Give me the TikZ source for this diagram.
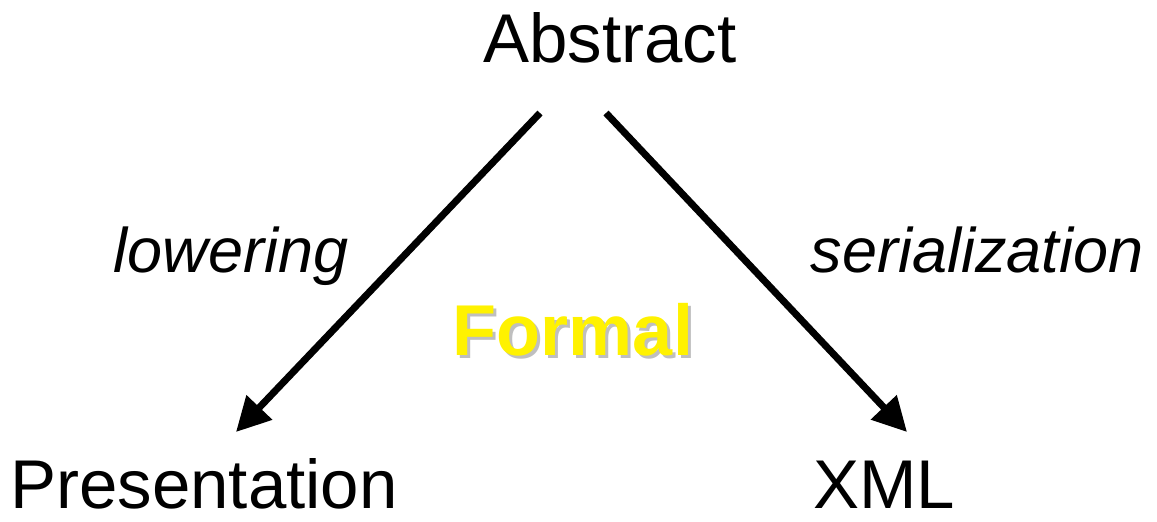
\documentclass[tikz,border=0pt]{standalone}
\usepackage{fontspec}
\setmainfont{Liberation Sans}
\usetikzlibrary{arrows.meta}
\begin{document}
\begin{tikzpicture}[x=1pt,y=-1pt,
  big/.style={font=\fontsize{69}{70}\selectfont, inner sep=0pt, anchor=base},
  lab/.style={font=\fontsize{63}{64}\selectfont\itshape, inner sep=0pt, anchor=base},
  arr/.style={line width=7pt, -{Triangle[length=34pt,width=34pt]}}]
\useasboundingbox (0,0) rectangle (1157,522);
\node[big] (abs) at (610,62) {Abstract};
\node[big] (pres) at (204,508) {Presentation};
\node[big] (xml) at (884,508) {XML};
\node[lab] (low) at (231,272) {lowering};
\node[lab] (ser) at (977,272) {serialization};
\node[font=\fontsize{72}{72}\selectfont\bfseries, inner sep=0pt, anchor=base, text=black!25] (fshadow) at (576,358) {Formal};
\node[font=\fontsize{72}{72}\selectfont\bfseries, inner sep=0pt, anchor=base, text=yellow] (formal) at (573,355) {Formal};
\coordinate (a1) at (540,113);
\coordinate (a2) at (236,432);
\coordinate (b1) at (606,113);
\coordinate (b2) at (907,432);
\draw[arr] (a1) -- (a2);
\draw[arr] (b1) -- (b2);
\end{tikzpicture}
\end{document}
